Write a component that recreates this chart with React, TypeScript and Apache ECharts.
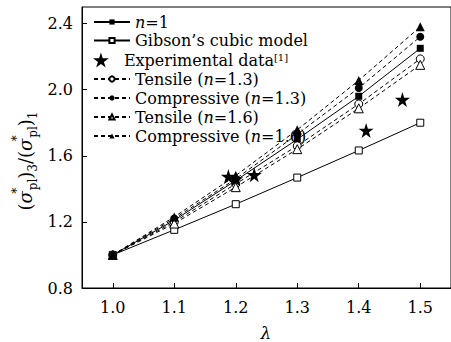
import React, { useEffect, useRef } from "react";
import * as echarts from "echarts";

const lambdas = [1.0, 1.1, 1.2, 1.3, 1.4, 1.5];
const nOne = [1.0, 1.21, 1.45, 1.7, 1.96, 2.25];
const gibson = [1.0, 1.152, 1.307, 1.468, 1.632, 1.8];
const tensile13 = [1.0, 1.2, 1.43, 1.66, 1.913, 2.186];
const compressive13 = [1.0, 1.22, 1.46, 1.73, 2.01, 2.32];
const tensile16 = [1.0, 1.19, 1.41, 1.64, 1.887, 2.15];
const compressive16 = [1.0, 1.23, 1.48, 1.757, 2.056, 2.38];
const expLambda = [1.188, 1.2, 1.23, 1.412, 1.471];
const expValue = [1.475, 1.46, 1.485, 1.753, 1.94];
const xTicks = [1.0, 1.1, 1.2, 1.3, 1.4, 1.5];
const yTicks = [0.8, 1.2, 1.6, 2.0, 2.4];

const FONT = "DejaVu Serif";
const STAR = "path://M50,0 L61,35 L98,35 L68,57 L79,91 L50,70 L21,91 L32,57 L2,35 L39,35 Z";

const legendNames = [
  "n=1",
  "Gibson's cubic model",
  "Experimental data",
  "Tensile (n=1.3)",
  "Compressive (n=1.3)",
  "Tensile (n=1.6)",
  "Compressive (n=1.6)",
];
const legendRich: Record<string, string> = {
  "n=1": "{it|n}=1",
  "Gibson's cubic model": "Gibson’s cubic model",
  "Experimental data": "Experimental data{sup|[1]}",
  "Tensile (n=1.3)": "Tensile ({it|n}=1.3)",
  "Compressive (n=1.3)": "Compressive ({it|n}=1.3)",
  "Tensile (n=1.6)": "Tensile ({it|n}=1.6)",
  "Compressive (n=1.6)": "Compressive ({it|n}=1.6)",
};
const legendRowCenters = [22, 40.5, 60, 79, 98, 117, 136];

const pairs = (ys: number[]) => lambdas.map((x, i) => [x, ys[i]]);

const legendText = {
  fontFamily: FONT,
  fontSize: 16,
  color: "#000",
  lineHeight: 16,
  rich: {
    it: { fontFamily: FONT, fontSize: 16, fontStyle: "italic", color: "#000", lineHeight: 16 },
    sup: { fontFamily: FONT, fontSize: 10, verticalAlign: "top", color: "#000", lineHeight: 16 },
  },
};

const makeLegend = (name: string, center: number) => {
  const ih = name === "Experimental data" ? 15 : 6.5;
  return {
    orient: "vertical",
    left: 93,
    top: center - 8,
    padding: 0,
    itemWidth: 36,
    itemHeight: ih,
    itemGap: 0,
    selectedMode: false,
    data: [name],
    formatter: (n: string) => legendRich[n] || n,
    textStyle: legendText,
  };
};

export default function App() {
  const ref = useRef<HTMLDivElement>(null);
  useEffect(() => {
    if (!ref.current) return;
    const chart = echarts.init(ref.current, null, { renderer: "svg" });
    const dashed = { color: "#000", width: 1, type: [4, 3] as any };
    const solid = { color: "#000", width: 1, type: "solid" as any };
    const lineSeries = (
      name: string,
      ys: number[],
      symbol: string,
      size: number,
      filled: boolean,
      lineStyle: any
    ) => ({
      name,
      type: "line",
      data: pairs(ys),
      symbol,
      symbolSize: size,
      color: "#000",
      lineStyle,
      itemStyle: filled
        ? { color: "#000", borderColor: "#000", borderWidth: 0, opacity: 1 }
        : { color: "#fff", borderColor: "#000", borderWidth: 1, opacity: 1 },
      emphasis: { disabled: true },
      z: 3,
    });
    chart.setOption({
      animation: false,
      grid: {
        left: 82,
        top: 7,
        width: 380,
        height: 281,
        show: true,
        borderColor: "#000",
        borderWidth: 1,
        backgroundColor: "transparent",
      },
      xAxis: {
        type: "value",
        min: 0.95,
        max: 1.55,
        axisLine: { lineStyle: { color: "#000", width: 1 } },
        axisTick: {
          inside: true,
          length: 5,
          lineStyle: { color: "#000" },
          customValues: xTicks,
        },
        axisLabel: {
          customValues: xTicks,
          formatter: (v: number) => v.toFixed(1),
          color: "#000",
          fontFamily: FONT,
          fontSize: 16,
          margin: 11,
        },
        splitLine: { show: false },
      },
      yAxis: {
        type: "value",
        min: 0.8,
        max: 2.5,
        axisLine: { show: true, lineStyle: { color: "#000", width: 1 } },
        axisTick: {
          show: true,
          inside: true,
          length: 5,
          lineStyle: { color: "#000" },
          customValues: yTicks,
        },
        axisLabel: {
          customValues: yTicks,
          formatter: (v: number) => v.toFixed(1),
          color: "#000",
          fontFamily: FONT,
          fontSize: 16,
          margin: 9,
        },
        splitLine: { show: false },
      },
      legend: legendNames.map((n, i) => makeLegend(n, legendRowCenters[i])),
      graphic: [
        {
          type: "text",
          x: 25,
          y: 161,
          rotation: Math.PI / 2,
          style: {
            text: "({it|σ}{sup|*}{sub|pl}){sub|3}/({it|σ}{sup|*}{sub|pl}){sub|1}",
            fill: "#000",
            fontFamily: FONT,
            fontSize: 18,
            align: "center",
            verticalAlign: "middle",
            lineHeight: 28,
            rich: {
              it: { fontFamily: FONT, fontSize: 18, fontStyle: "italic", lineHeight: 28 },
              sup: { fontFamily: FONT, fontSize: 12, verticalAlign: "top", width: 1 },
              sub: { fontFamily: FONT, fontSize: 12, verticalAlign: "bottom" },
            },
          } as any,
        },
        {
          type: "text",
          x: 266,
          y: 333,
          style: {
            text: "λ",
            fill: "#000",
            fontFamily: FONT,
            fontSize: 17,
            fontStyle: "italic",
            align: "center",
            verticalAlign: "middle",
          },
        },
      ],
      series: [
        lineSeries("n=1", nOne, "rect", 7, true, solid),
        lineSeries("Gibson's cubic model", gibson, "rect", 7, false, solid),
        {
          name: "Experimental data",
          type: "scatter",
          data: expLambda.map((x, i) => [x, expValue[i]]),
          symbol: STAR,
          symbolSize: 15,
          itemStyle: { color: "#000", opacity: 1 },
          emphasis: { disabled: true },
          z: 5,
        },
        lineSeries("Tensile (n=1.3)", tensile13, "circle", 8, false, dashed),
        lineSeries("Compressive (n=1.3)", compressive13, "circle", 8, true, dashed),
        lineSeries("Tensile (n=1.6)", tensile16, "triangle", 9, false, dashed),
        lineSeries("Compressive (n=1.6)", compressive16, "triangle", 9, true, dashed),
      ],
    });
    return () => chart.dispose();
  }, []);
  return (
    <div
      ref={ref}
      style={{ position: "fixed", left: 0, top: 0, width: 451, height: 342, background: "#fff" }}
    />
  );
}
